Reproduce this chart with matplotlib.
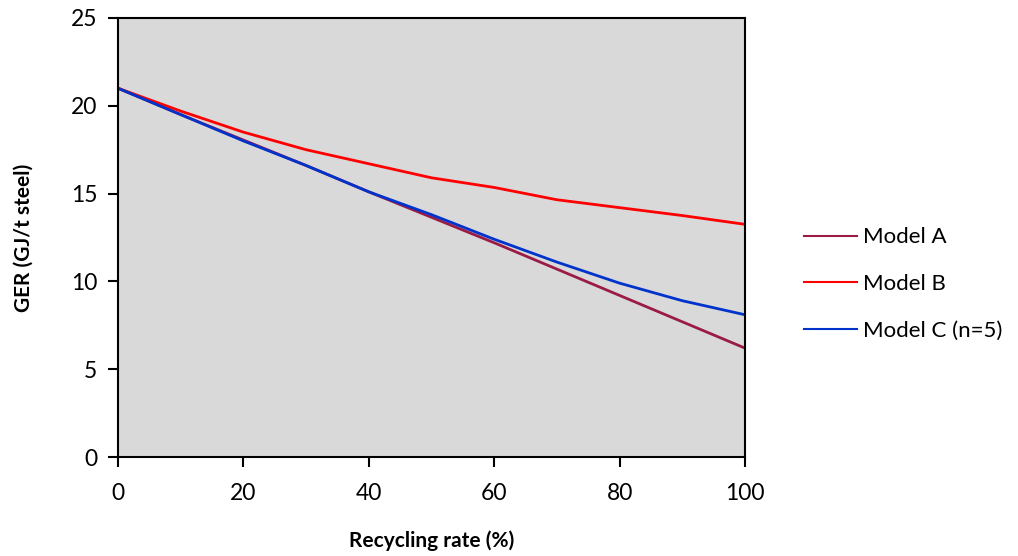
import matplotlib
matplotlib.use("Agg")
import matplotlib.pyplot as plt

recycling_rate = [0, 10, 20, 30, 40, 50, 60, 70, 80, 90, 100]
model_a = [21.0, 19.5, 18.05, 16.6, 15.1, 13.65, 12.2, 10.7, 9.2, 7.7, 6.2]
model_b = [21.0, 19.7, 18.5, 17.5, 16.7, 15.9, 15.35, 14.65, 14.2, 13.75, 13.25]
model_c = [21.0, 19.5, 18.0, 16.6, 15.1, 13.8, 12.4, 11.1, 9.9, 8.9, 8.1]

series_labels = ["Model A", "Model B", "Model C (n=5)"]
x_ticks = [0, 20, 40, 60, 80, 100]
y_ticks = [0, 5, 10, 15, 20, 25]

plt.rcParams["font.family"] = ["Lato", "DejaVu Sans"]

fig = plt.figure(figsize=(10.18, 5.56), dpi=100)
ax = fig.add_axes([118 / 1018, 99 / 556, 627 / 1018, 439 / 556])
ax.set_facecolor("#D9D9D9")

ax.plot(recycling_rate, model_a, color="#9B1B47", lw=2, label=series_labels[0])
ax.plot(recycling_rate, model_b, color="#FF0000", lw=2, label=series_labels[1])
ax.plot(recycling_rate, model_c, color="#0033CC", lw=2, label=series_labels[2])

ax.set_xlim(0, 100)
ax.set_ylim(0, 25)
ax.set_xticks(x_ticks)
ax.set_yticks(y_ticks)
ax.tick_params(direction="out", length=7, width=1.5, labelsize=16.5)
ax.tick_params(axis="x", pad=12)
ax.tick_params(axis="y", pad=8)
for s in ax.spines.values():
    s.set_linewidth(1.5)

ax.set_xlabel("Recycling rate (%)", fontsize=15, fontweight="bold", labelpad=19)
ax.set_ylabel("GER (GJ/t steel)", fontsize=15, fontweight="bold", labelpad=27)

leg = fig.legend(loc="center left", bbox_to_anchor=(784 / 1018, 1 - 284 / 556),
                 frameon=False, fontsize=16, handlelength=2.4, handletextpad=0.25,
                 labelspacing=1.2)
for line in leg.get_lines():
    line.set_linewidth(1.5)

fig.savefig("out.png", dpi=100)
